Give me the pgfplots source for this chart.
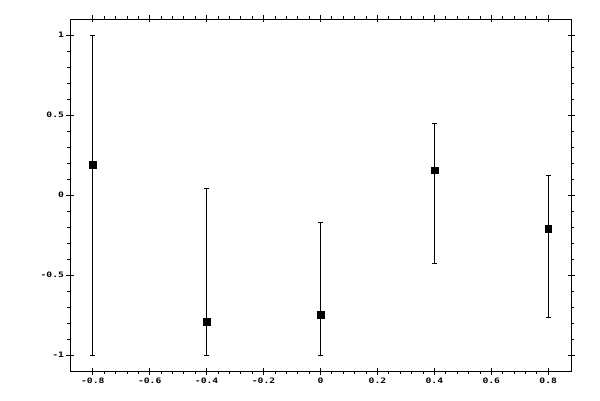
\documentclass[border=0pt]{standalone}
\usepackage{graphicx}
\usepackage{pgfplots}
\pgfplotsset{compat=1.18}
\usepackage{fontspec}
\newfontfamily\tickfont{DejaVu Sans Mono}
\newcommand\ticktext[1]{\scalebox{1.3}[1]{\tickfont\bfseries\fontsize{7.5}{8}\selectfont #1}}
\begin{document}
\begin{tikzpicture}[x=1bp,y=1bp]
\useasboundingbox (-70,-29) rectangle (530,371);
\pgfplotsset{
  common/.style={
    at={(0,0)}, anchor=south west,
    scale only axis, width=501bp, height=352bp,
    xmin=-0.88, xmax=0.88, ymin=-1.1, ymax=1.1,
    xtick={-0.8,-0.6,-0.4,-0.2,0,0.2,0.4,0.6,0.8},
    ytick={-1,-0.5,0,0.5,1},
    axis line style={line width=0.8bp},
    every tick/.style={black, line width=0.8bp},
  },
}
% outer ticks (major and minor) with labels
\begin{axis}[
    common,
    minor x tick num=4, minor y tick num=4,
    tick align=outside, major tick length=3.5bp, minor tick length=3bp,
    xticklabel={\ticktext{\pgfmathprintnumber[assume math mode=true]{\tick}}},
    yticklabel={\ticktext{\pgfmathprintnumber[assume math mode=true]{\tick}}},
    xticklabel style={yshift=0bp},
    yticklabel style={xshift=1bp},
  ]
\addplot[
    black, only marks, mark=square*, mark size=3.4bp,
    error bars/.cd, y dir=both, y explicit,
    error bar style={line width=0.8bp},
    error mark=|,
    error mark options={black, mark size=2.5bp, line width=0.8bp},
  ] table[x=x, y=y, y error plus=ep, y error minus=em] {
x     y      ep     em
-0.8  0.19   0.81   1.19
-0.4  -0.79  0.83   0.21
0     -0.75  0.58   0.25
0.4   0.155  0.29   0.58
0.8   -0.21  0.335  0.555
};
\end{axis}
% inner half of major ticks
\begin{axis}[
    common,
    minor tick num=0,
    tick align=inside, major tick length=3.5bp,
    xticklabels={}, yticklabels={},
  ]
\end{axis}
\end{tikzpicture}
\end{document}
